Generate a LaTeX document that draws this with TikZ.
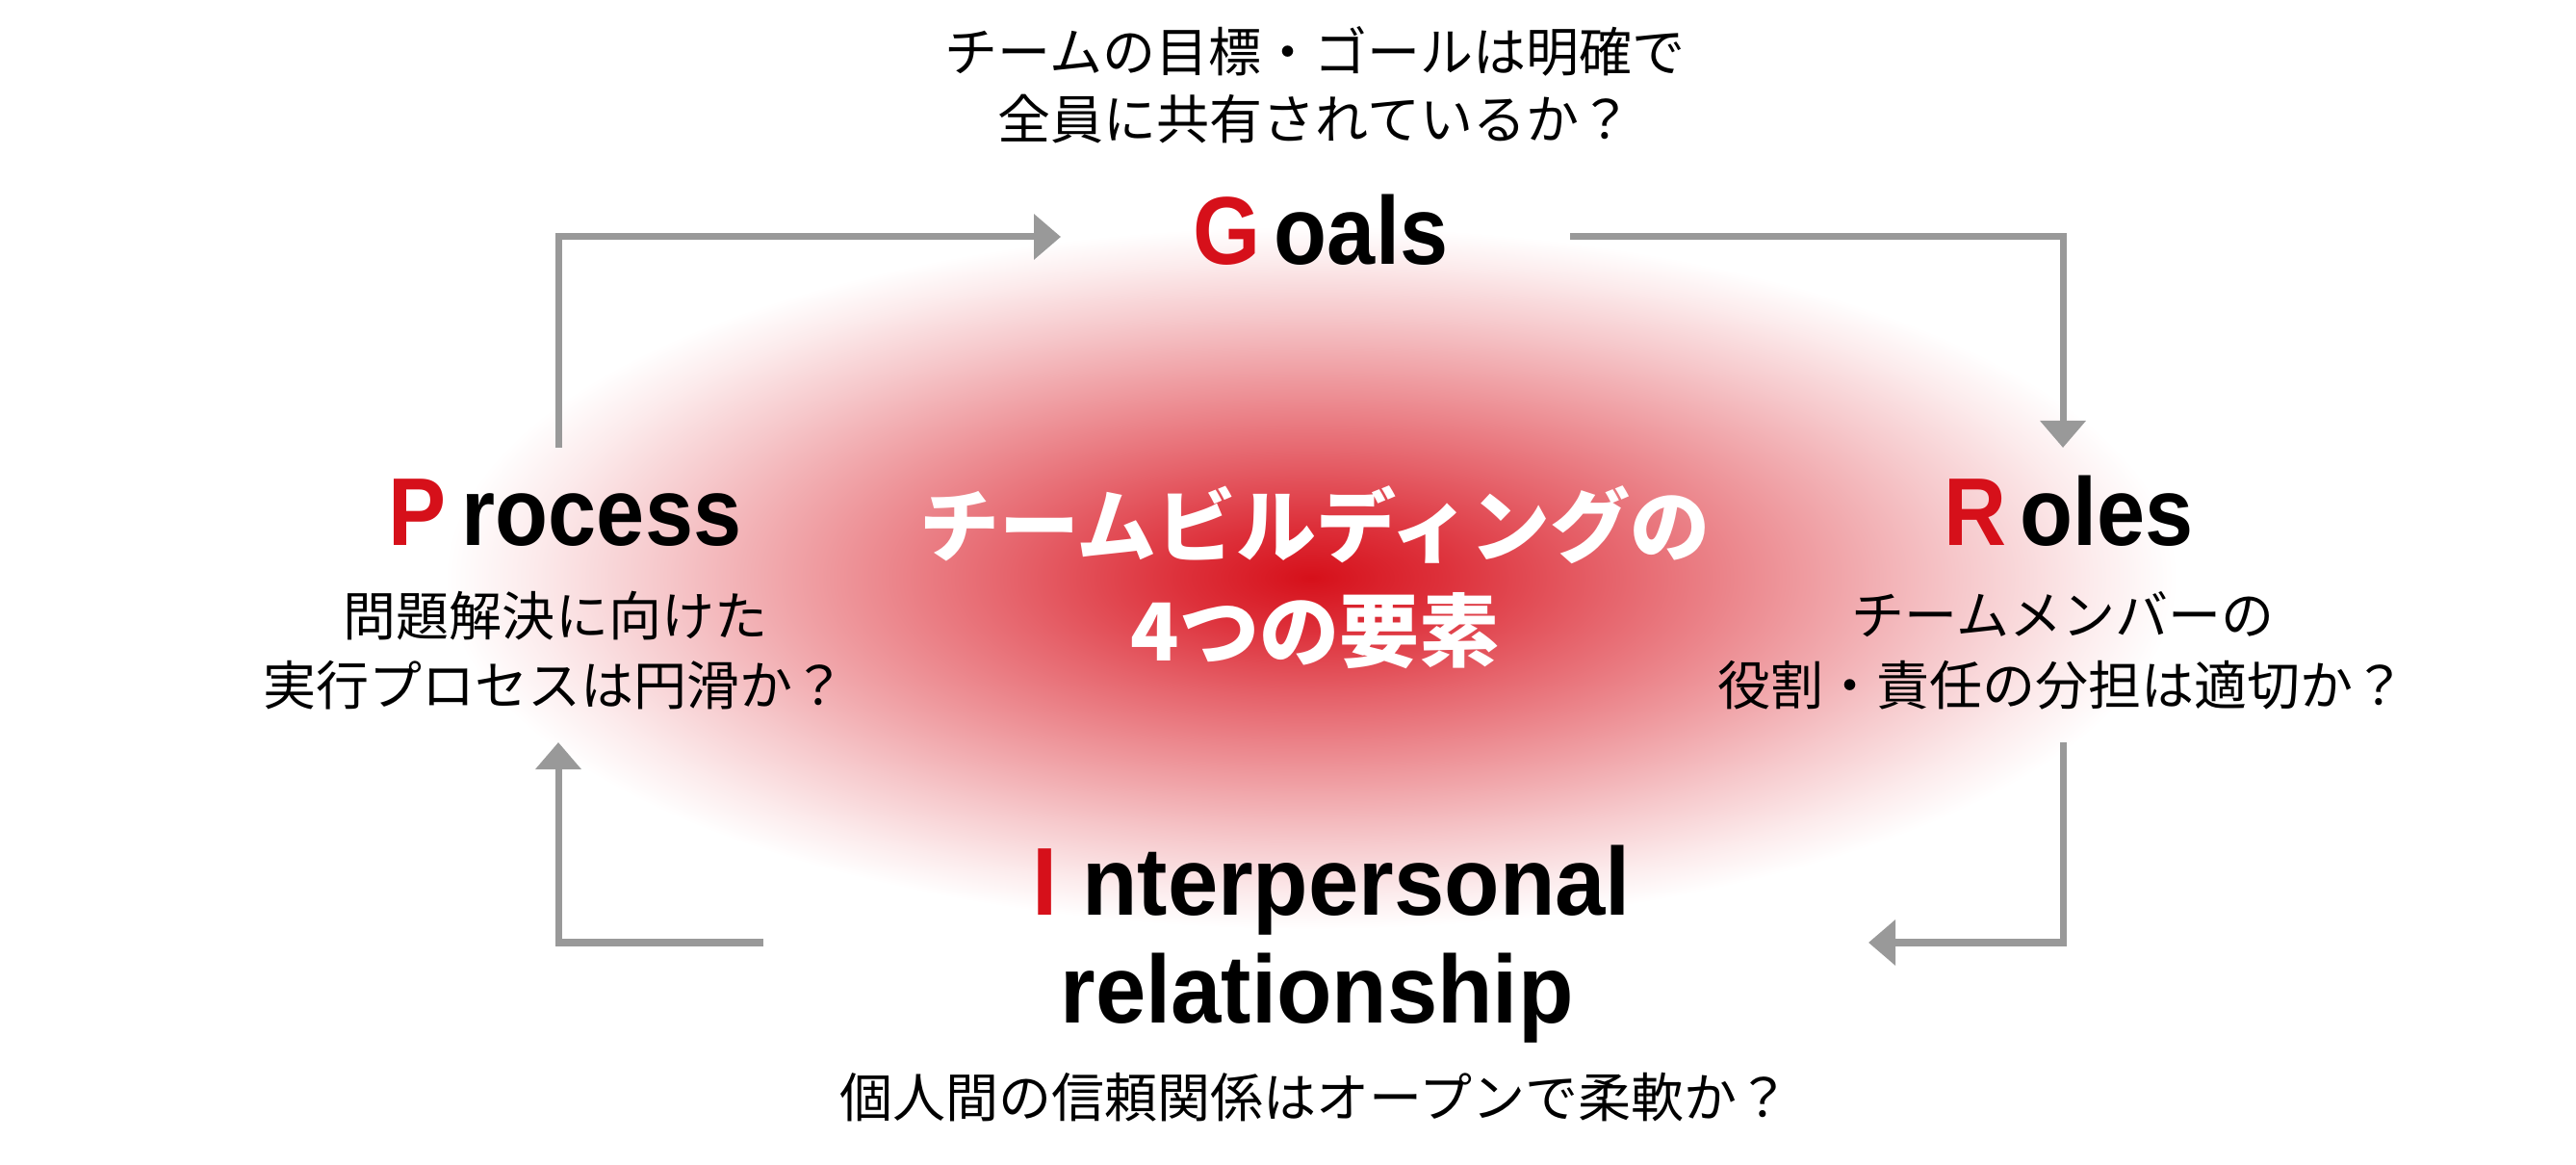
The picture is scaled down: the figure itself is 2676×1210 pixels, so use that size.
\documentclass[tikz,border=0pt]{standalone}
\usepackage{fontspec}
\setmainfont{Liberation Sans}
\newfontfamily\jpfont{Noto Sans CJK JP}
\newfontfamily\enfont[FakeStretch=0.9]{Liberation Sans}
\newfontfamily\enfontw[FakeStretch=0.94]{Liberation Sans}
\usetikzlibrary{arrows.meta}
\definecolor{gred}{RGB}{214,16,26}
\definecolor{agray}{RGB}{153,153,153}
\definecolor{gA}{RGB}{214,16,26}
\definecolor{gB}{RGB}{221,48,58}
\definecolor{gC}{RGB}{230,100,108}
\definecolor{gD}{RGB}{238,150,155}
\definecolor{gE}{RGB}{246,200,203}
\definecolor{gF}{RGB}{252,235,236}
\pgfdeclareradialshading{glow}{\pgfpoint{0bp}{0bp}}{color(0bp)=(gA); color(3.75bp)=(gB); color(8.75bp)=(gC); color(13.75bp)=(gD); color(18.75bp)=(gE); color(22.5bp)=(gF); color(25bp)=(white); color(50bp)=(white)}
\begin{document}
\begin{tikzpicture}[x=0.01cm,y=-0.01cm,
  conn/.style={draw=agray, line width=0.07cm, line join=miter, line cap=butt,
    -{Triangle[length=0.28cm,width=0.46cm]}},
  entitle/.style={inner sep=0pt, anchor=base, font=\enfont\bfseries\fontsize{28.45pt}{34pt}\selectfont},
  entitlew/.style={inner sep=0pt, anchor=base, font=\enfontw\bfseries\fontsize{28.45pt}{34pt}\selectfont},
  jptext/.style={inner sep=0pt, anchor=base, font=\jpfont\fontsize{15.65pt}{20pt}\selectfont},
  centertext/.style={inner sep=0pt, anchor=base, text=white, font=\jpfont\bfseries\fontsize{23.6pt}{28pt}\selectfont}]
\useasboundingbox (0,0) rectangle (2676,1210);
\fill[white] (0,0) rectangle (2676,1210);
\shade[shading=glow] (1362,600) ellipse [x radius=900, y radius=365];

% titles
\node[entitle] (goals) at (1372,275) {\textcolor{gred}{G}\kern0.14em oals};
\node[entitle] (process) at (587,567) {\textcolor{gred}{P}\kern0.16em rocess};
\node[entitle] (roles) at (2149,567) {\textcolor{gred}{R}\kern0.14em oles};
\node[entitlew] (inter1) at (1383,951) {\textcolor{gred}{I}\kern0.26em nterpersonal};
\node[entitlew] (inter2) at (1368,1062) {relationship};

% questions
\node[jptext] (gq1) at (1366,75) {チームの目標・ゴールは明確で};
\node[jptext] (gq2) at (1366,145) {全員に共有されているか？};
\node[jptext] (pq1) at (577,661) {問題解決に向けた};
\node[jptext] (pq2) at (576,733) {実行プロセスは円滑か？};
\node[jptext] (rq1) at (2143,660) {チームメンバーの};
\node[jptext] (rq2) at (2142,733) {役割・責任の分担は適切か？};
\node[jptext] (iq) at (1366,1160) {個人間の信頼関係はオープンで柔軟か？};

% center
\node[centertext] (c1) at (1366,578) {チームビルディングの};
\node[centertext] (c2) at (1366,687) {4つの要素};

% connectors
\coordinate (a1s) at (580,465);
\coordinate (a1e) at (1102,246);
\coordinate (a2s) at (1631,246);
\coordinate (a2e) at (2143,465);
\coordinate (a3s) at (2143,771);
\coordinate (a3e) at (1941,979);
\coordinate (a4s) at (793,979);
\coordinate (a4e) at (580,771);
\draw[conn] (a1s) |- (a1e);
\draw[conn] (a2s) -| (a2e);
\draw[conn] (a3s) |- (a3e);
\draw[conn] (a4s) -| (a4e);
\end{tikzpicture}
\end{document}
